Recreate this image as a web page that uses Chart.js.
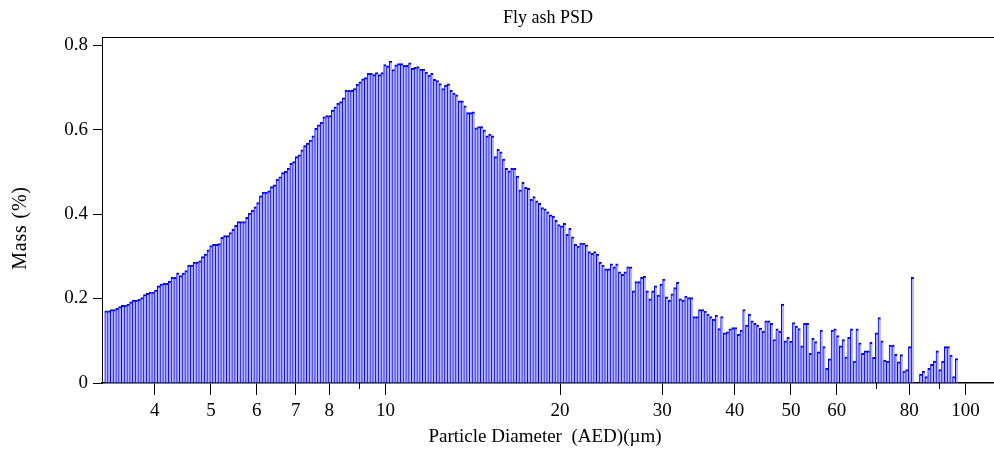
<!DOCTYPE html>
<html>
<head>
<meta charset="utf-8">
<script src="https://cdn.jsdelivr.net/npm/chart.js@4.4.1/dist/chart.umd.min.js"></script>
<style>
html,body{margin:0;padding:0;background:#fff;overflow:hidden}
</style>
</head>
<body>
<canvas id="c" width="994" height="451"></canvas>
<script>
// ---- Data ----
const chartTitle = "Fly ash PSD";
const xTitle = "Particle Diameter  (AED)(\u00b5m)";
const yTitle = "Mass (%)";

// x range shown on the log axis (µm)
const xMin = 3.245, xMax = 111.96;

const xTickValues = [4,5,6,7,8,10,20,30,40,50,60,80,100];
const xMinorTicks = [9,70,90];
const yTickValues = [0,0.2,0.4,0.6,0.8];

// channel mid diameters (µm), equal log width, full axis span
const diameters = [
 3.26,3.30,3.34,3.37,3.41,3.45,3.48,3.52,3.56,3.60,
 3.64,3.68,3.72,3.76,3.80,3.85,3.89,3.93,3.97,4.02,
 4.06,4.11,4.15,4.20,4.25,4.29,4.34,4.39,4.44,4.48,
 4.53,4.58,4.63,4.69,4.74,4.79,4.84,4.90,4.95,5.00,
 5.06,5.11,5.17,5.23,5.29,5.34,5.40,5.46,5.52,5.58,
 5.65,5.71,5.77,5.83,5.90,5.96,6.03,6.10,6.16,6.23,
 6.30,6.37,6.44,6.51,6.58,6.65,6.73,6.80,6.88,6.95,
 7.03,7.11,7.18,7.26,7.34,7.43,7.51,7.59,7.67,7.76,
 7.84,7.93,8.02,8.11,8.20,8.29,8.38,8.47,8.56,8.66,
 8.75,8.85,8.95,9.05,9.15,9.25,9.35,9.45,9.56,9.66,
 9.77,9.87,9.98,10.1,10.2,10.3,10.4,10.5,10.7,10.8,
 10.9,11.0,11.1,11.3,11.4,11.5,11.6,11.8,11.9,12.0,
 12.2,12.3,12.4,12.6,12.7,12.8,13.0,13.1,13.3,13.4,
 13.6,13.7,13.9,14.0,14.2,14.3,14.5,14.7,14.8,15.0,
 15.1,15.3,15.5,15.6,15.8,16.0,16.2,16.4,16.5,16.7,
 16.9,17.1,17.3,17.5,17.7,17.8,18.0,18.2,18.4,18.7,
 18.9,19.1,19.3,19.5,19.7,19.9,20.1,20.4,20.6,20.8,
 21.0,21.3,21.5,21.7,22.0,22.2,22.5,22.7,23.0,23.2,
 23.5,23.7,24.0,24.3,24.5,24.8,25.1,25.3,25.6,25.9,
 26.2,26.5,26.8,27.1,27.4,27.7,28.0,28.3,28.6,28.9,
 29.2,29.6,29.9,30.2,30.5,30.9,31.2,31.6,31.9,32.3,
 32.6,33.0,33.3,33.7,34.1,34.5,34.8,35.2,35.6,36.0,
 36.4,36.8,37.2,37.6,38.0,38.4,38.9,39.3,39.7,40.2,
 40.6,41.1,41.5,42.0,42.4,42.9,43.4,43.9,44.3,44.8,
 45.3,45.8,46.3,46.8,47.4,47.9,48.4,48.9,49.5,50.0,
 50.6,51.1,51.7,52.3,52.8,53.4,54.0,54.6,55.2,55.8,
 56.4,57.1,57.7,58.3,59.0,59.6,60.3,60.9,61.6,62.3,
 63.0,63.7,64.4,65.1,65.8,66.5,67.3,68.0,68.8,69.5,
 70.3,71.0,71.8,72.6,73.4,74.2,75.1,75.9,76.7,77.6,
 78.4,79.3,80.2,81.0,81.9,82.8,83.8,84.7,85.6,86.6,
 87.5,88.5,89.4,90.4,91.4,92.4,93.5,94.5,95.5,96.6,
 97.6,98.7,99.8,101,102,103,104,105,107,108,
 109,110,111
];

// mass % per channel, smallest diameter first
const mass = [
 null,0.171,0.171,0.174,0.174,0.177,0.181,0.184,0.184,0.187,
 0.192,0.196,0.196,0.198,0.202,0.209,0.212,0.215,0.215,0.220,
 0.230,0.234,0.236,0.236,0.241,0.250,0.250,0.261,0.254,0.260,
 0.266,0.279,0.279,0.286,0.286,0.289,0.299,0.305,0.315,0.325,
 0.328,0.328,0.330,0.345,0.349,0.349,0.356,0.364,0.373,0.382,
 0.382,0.382,0.392,0.402,0.409,0.417,0.427,0.443,0.452,0.452,
 0.455,0.465,0.469,0.482,0.488,0.498,0.501,0.508,0.520,0.524,
 0.536,0.540,0.552,0.562,0.568,0.575,0.585,0.603,0.611,0.617,
 0.630,0.633,0.633,0.646,0.654,0.662,0.666,0.675,0.693,0.693,
 0.693,0.697,0.707,0.713,0.720,0.723,0.733,0.733,0.730,0.735,
 0.730,0.735,0.754,0.751,0.762,0.742,0.753,0.756,0.756,0.752,
 0.752,0.758,0.745,0.747,0.749,0.743,0.743,0.736,0.729,0.733,
 0.719,0.716,0.709,0.697,0.705,0.708,0.693,0.686,0.682,0.668,
 0.668,0.656,0.640,0.640,0.642,0.604,0.607,0.607,0.599,0.585,
 0.589,0.585,0.536,0.553,0.547,0.530,0.508,0.502,0.508,0.508,
 0.490,0.457,0.475,0.463,0.461,0.435,0.441,0.431,0.425,0.415,
 0.412,0.405,0.398,0.395,0.385,0.375,0.372,0.378,0.352,0.366,
 0.346,0.328,0.324,0.331,0.331,0.327,0.311,0.307,0.311,0.305,
 0.286,0.279,0.270,0.270,0.282,0.275,0.282,0.263,0.257,0.263,
 0.275,0.275,0.218,0.240,0.240,0.250,0.253,0.218,0.199,0.218,
 0.230,0.208,0.234,0.246,0.204,0.196,0.211,0.226,0.238,0.199,
 0.196,0.206,0.202,0.202,0.157,0.157,0.174,0.174,0.170,0.163,
 0.157,0.151,0.161,0.129,0.157,0.119,0.121,0.128,0.131,0.131,
 0.115,0.125,0.174,0.137,0.163,0.147,0.141,0.137,0.130,0.123,
 0.147,0.147,0.141,0.103,0.128,0.123,0.187,0.100,0.108,0.099,
 0.143,0.135,0.129,0.088,0.141,0.141,0.070,0.106,0.098,0.074,
 0.125,0.086,0.035,0.057,0.125,0.128,0.112,0.088,0.103,0.062,
 0.108,0.128,0.052,0.128,0.095,0.070,0.076,0.076,0.096,0.061,
 0.119,0.155,0.100,0.054,0.052,0.090,0.090,0.068,0.050,0.067,
 0.028,0.032,0.086,0.250,null,null,0.021,0.028,0.015,0.035,
 0.044,0.052,0.076,0.032,0.052,0.086,0.086,0.066,0.015,0.058
];

const SERIF = '"Liberation Serif", "Times New Roman", serif';

// ---- Frame, minor ticks and texts ----
const decor = {
  id: "decor",
  afterDraw(chart){
    const {ctx, chartArea: a, scales} = chart;
    ctx.save();
    ctx.strokeStyle = "#000";
    ctx.lineWidth = 1;
    ctx.beginPath();
    ctx.moveTo(a.left, a.top + 0.5);
    ctx.lineTo(a.right, a.top + 0.5);
    xMinorTicks.forEach(v=>{
      const px = Math.round(scales.x.getPixelForValue(v)) + 0.5;
      ctx.moveTo(px, a.bottom);
      ctx.lineTo(px, a.bottom + 6);
    });
    ctx.stroke();

    ctx.fillStyle = "#000";
    ctx.textAlign = "center";
    ctx.textBaseline = "middle";
    ctx.font = "18px " + SERIF;
    ctx.fillText(chartTitle, 548, 18);
    ctx.font = "19px " + SERIF;
    ctx.fillText(xTitle, 545, 437);
    ctx.translate(21, 228);
    ctx.rotate(-Math.PI / 2);
    ctx.font = "20px " + SERIF;
    ctx.letterSpacing = "0.8px";
    ctx.fillText(yTitle, 0, 0);
    ctx.restore();
  }
};

new Chart(document.getElementById("c"), {
  type: "bar",
  data: {
    labels: diameters,
    datasets: [{
      data: mass,
      xAxisID: "xb",
      yAxisID: "y",
      backgroundColor: "#b4b4ff",
      borderColor: "#0000ff",
      borderWidth: {left: 1, top: 2, right: 0, bottom: 0},
      borderSkipped: false,
      barPercentage: 1,
      categoryPercentage: 1
    }]
  },
  plugins: [decor],
  options: {
    responsive: false,
    animation: false,
    layout: {padding: {top: 37, right: 0, left: 0, bottom: 0}},
    plugins: {legend: {display: false}, tooltip: {enabled: false}, title: {display: false}},
    scales: {
      // bars sit on equal-width channels; the log axis below shows the diameters
      xb: {type: "category", display: false, offset: true},
      x: {
        type: "logarithmic",
        position: "bottom",
        min: xMin, max: xMax,
        offset: false,
        z: 1,
        afterBuildTicks: s => { s.ticks = xTickValues.concat(xMinorTicks).sort((p,q)=>p-q).map(v=>({value:v})); },
        afterFit: s => { s.height = 68; },
        ticks: {
          autoSkip: false, maxRotation: 0, padding: 5, color: "#000",
          font: {family: SERIF, size: 19},
          callback: v => xTickValues.includes(v) ? String(v) : ""
        },
        grid: {
          offset: false,
          drawOnChartArea: false, tickLength: 12, tickWidth: 1,
          tickColor: c => (c.tick && xMinorTicks.includes(c.tick.value)) ? "rgba(0,0,0,0)" : "#000"
        },
        border: {display: true, color: "#000", width: 1.5}
      },
      y: {
        min: 0, max: 0.819,
        z: 1,
        afterBuildTicks: s => { s.ticks = yTickValues.map(v=>({value:v})); },
        afterFit: s => { s.width = 102; },
        ticks: {
          padding: 5, color: "#000",
          font: {family: SERIF, size: 19},
          callback: v => v === 0 ? "0" : v.toFixed(1)
        },
        grid: {drawOnChartArea: false, tickLength: 9, tickColor: "#000"},
        border: {display: true, color: "#000", width: 1}
      }
    }
  }
});
</script>
</body>
</html>
